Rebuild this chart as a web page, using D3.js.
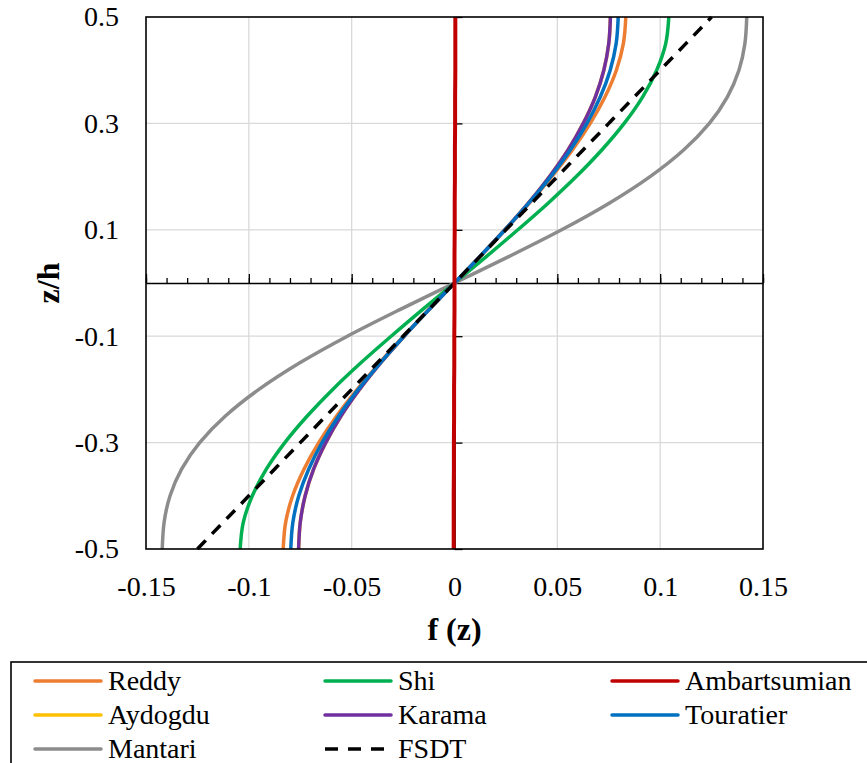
<!DOCTYPE html>
<html>
<head>
<meta charset="utf-8">
<script src="https://cdn.jsdelivr.net/npm/d3@7"></script>
</head>
<body style="margin:0">
<svg id="chart" width="867" height="763" font-family="Liberation Serif"></svg>
<script>
// z/h positions where each curve was read
const zh = [-0.5, -0.45, -0.4, -0.35, -0.3, -0.25, -0.2, -0.15, -0.1, -0.05, 0,
            0.05, 0.1, 0.15, 0.2, 0.25, 0.3, 0.35, 0.4, 0.45, 0.5];

// f(z) values
const reddy = [-0.0833, -0.0821, -0.0787, -0.0732, -0.0660, -0.0573, -0.0473, -0.0364, -0.0247, -0.0125, 0,
               0.0125, 0.0247, 0.0364, 0.0473, 0.0573, 0.0660, 0.0732, 0.0787, 0.0821, 0.0833];
const shi = [-0.1042, -0.1027, -0.0983, -0.0915, -0.0825, -0.0716, -0.0592, -0.0455, -0.0308, -0.0156, 0,
             0.0156, 0.0308, 0.0455, 0.0592, 0.0716, 0.0825, 0.0915, 0.0983, 0.1027, 0.1042];
const ambartsumian = [-0.0004, -0.0004, -0.0004, -0.0003, -0.0003, -0.0002, -0.0002, -0.0001, -0.0001, 0, 0,
                      0, 0.0001, 0.0001, 0.0002, 0.0002, 0.0003, 0.0003, 0.0004, 0.0004, 0.0004];
const aydogdu = [-0.0758, -0.0750, -0.0726, -0.0685, -0.0626, -0.0552, -0.0462, -0.0359, -0.0245, -0.0124, 0,
                 0.0124, 0.0245, 0.0359, 0.0462, 0.0552, 0.0626, 0.0685, 0.0726, 0.0750, 0.0758];
const karama = [-0.0758, -0.0750, -0.0726, -0.0685, -0.0626, -0.0552, -0.0462, -0.0359, -0.0245, -0.0124, 0,
                0.0124, 0.0245, 0.0359, 0.0462, 0.0552, 0.0626, 0.0685, 0.0726, 0.0750, 0.0758];
const touratier = [-0.0796, -0.0786, -0.0757, -0.0709, -0.0644, -0.0563, -0.0468, -0.0361, -0.0246, -0.0124, 0,
                   0.0124, 0.0246, 0.0361, 0.0468, 0.0563, 0.0644, 0.0709, 0.0757, 0.0786, 0.0796];
const mantari = [-0.1421, -0.1412, -0.1383, -0.1327, -0.1239, -0.1114, -0.0951, -0.0752, -0.0521, -0.0266, 0,
                 0.0266, 0.0521, 0.0752, 0.0951, 0.1114, 0.1239, 0.1327, 0.1383, 0.1412, 0.1421];
const fsdt = [-0.125, -0.1125, -0.1, -0.0875, -0.075, -0.0625, -0.05, -0.0375, -0.025, -0.0125, 0,
              0.0125, 0.025, 0.0375, 0.05, 0.0625, 0.075, 0.0875, 0.1, 0.1125, 0.125];

const xTicks = [-0.15, -0.1, -0.05, 0, 0.05, 0.1, 0.15];
const yTicks = [-0.5, -0.3, -0.1, 0.1, 0.3, 0.5];

const names = ["Reddy", "Shi", "Ambartsumian", "Aydogdu", "Karama", "Touratier", "Mantari", "FSDT"];
const colors = ["#ED7D31", "#00B050", "#C00000", "#FFC000", "#7030A0", "#0070C0", "#8C8C8C", "#000000"];
const seriesVals = [reddy, shi, ambartsumian, aydogdu, karama, touratier, mantari, fsdt];
// drawing order (last on top)
const drawOrder = ["Mantari", "Reddy", "Shi", "Aydogdu", "Karama", "Touratier", "FSDT", "Ambartsumian"];

const FONT = "Liberation Serif";

const width = 867, height = 763;
const margin = { top: 17, right: 104, bottom: 214, left: 146 };

const svg = d3.select("#chart");

const x = d3.scaleLinear().domain([-0.15, 0.15]).range([margin.left, width - margin.right]);
const y = d3.scaleLinear().domain([-0.5, 0.5]).range([height - margin.bottom, margin.top]);

// gridlines
svg.append("g")
  .selectAll("line")
  .data([-0.1, -0.05, 0.05, 0.1])
  .join("line")
  .attr("x1", d => x(d)).attr("x2", d => x(d))
  .attr("y1", y(-0.5)).attr("y2", y(0.5))
  .attr("stroke", "#d9d9d9").attr("stroke-width", 1.3);

svg.append("g")
  .selectAll("line")
  .data([-0.3, -0.1, 0.1, 0.3])
  .join("line")
  .attr("x1", x(-0.15)).attr("x2", x(0.15))
  .attr("y1", d => y(d)).attr("y2", d => y(d))
  .attr("stroke", "#d9d9d9").attr("stroke-width", 1.3);

// tick labels at the bottom and left of the plot
const xLab = svg.append("g")
  .attr("transform", `translate(0,${y(-0.5)})`)
  .call(d3.axisBottom(x).tickValues(xTicks).tickSize(0).tickPadding(27).tickFormat(d => String(d)))
  .attr("font-family", FONT)
  .attr("font-size", 28);
xLab.select(".domain").remove();
xLab.selectAll("text").attr("fill", "#000");

const yLab = svg.append("g")
  .attr("transform", `translate(${x(-0.15)},0)`)
  .call(d3.axisLeft(y).tickValues(yTicks).tickSize(0).tickPadding(27).tickFormat(d => String(d)))
  .attr("font-family", FONT)
  .attr("font-size", 28);
yLab.select(".domain").remove();
yLab.selectAll("text").attr("fill", "#000");

// axes crossing at zero
const xMinor = svg.append("g")
  .attr("transform", `translate(0,${y(0)})`)
  .call(d3.axisTop(x).ticks(30).tickSize(5).tickFormat(""));
xMinor.select(".domain").remove();
xMinor.selectAll("line").attr("stroke-width", 1.3);

const xMajor = svg.append("g")
  .attr("transform", `translate(0,${y(0)})`)
  .call(d3.axisTop(x).tickValues(xTicks).tickSize(9).tickSizeOuter(0).tickFormat(""));
xMajor.selectAll("line").attr("stroke-width", 1.3);
xMajor.select(".domain").attr("stroke-width", 1.6);

const yAx = svg.append("g")
  .attr("transform", `translate(${x(0)},0)`)
  .call(d3.axisRight(y).tickValues(yTicks).tickSize(8).tickSizeOuter(0).tickFormat(""));
yAx.selectAll("line").attr("stroke-width", 1.3);
yAx.select(".domain").attr("stroke-width", 1.6);

// curves
const line = d3.line()
  .x(d => x(d[0]))
  .y(d => y(d[1]))
  .curve(d3.curveMonotoneY);

drawOrder.forEach(n => {
  const i = names.indexOf(n);
  const pts = zh.map((z, k) => [seriesVals[i][k], z]);
  svg.append("path")
    .datum(pts)
    .attr("d", line)
    .attr("fill", "none")
    .attr("stroke", colors[i])
    .attr("stroke-width", n === "Ambartsumian" ? 4 : 3.5)
    .attr("stroke-dasharray", n === "FSDT" ? "12,9" : null);
});

// plot border
svg.append("rect")
  .attr("x", x(-0.15)).attr("y", y(0.5))
  .attr("width", x(0.15) - x(-0.15))
  .attr("height", y(-0.5) - y(0.5))
  .attr("fill", "none")
  .attr("stroke", "#000")
  .attr("stroke-width", 1.6);

// axis titles
svg.append("text")
  .attr("transform", `translate(59,${y(0)}) rotate(-90)`)
  .attr("text-anchor", "middle")
  .attr("font-family", FONT)
  .attr("font-size", 32)
  .attr("font-weight", "bold")
  .text("z/h");

svg.append("text")
  .attr("x", x(0))
  .attr("y", 640)
  .attr("text-anchor", "middle")
  .attr("font-family", FONT)
  .attr("font-size", 32)
  .attr("font-weight", "bold")
  .text("f (z)");

// legend
svg.append("rect")
  .attr("x", 11).attr("y", 662)
  .attr("width", 880).attr("height", 120)
  .attr("fill", "none")
  .attr("stroke", "#000")
  .attr("stroke-width", 1.6);

const colX = [35, 325, 612];
const rowY = [681, 715, 749];
names.forEach((n, i) => {
  const cx = colX[i % 3], cy = rowY[Math.floor(i / 3)];
  svg.append("line")
    .attr("x1", cx).attr("x2", cx + 66)
    .attr("y1", cy).attr("y2", cy)
    .attr("stroke", colors[i])
    .attr("stroke-width", 3.5)
    .attr("stroke-linecap", n === "FSDT" ? "butt" : "round")
    .attr("stroke-dasharray", n === "FSDT" ? "13,10" : null);
  svg.append("text")
    .attr("x", cx + 73)
    .attr("y", cy + 9)
    .attr("font-family", FONT)
    .attr("font-size", 28)
    .text(n);
});
</script>
</body>
</html>
